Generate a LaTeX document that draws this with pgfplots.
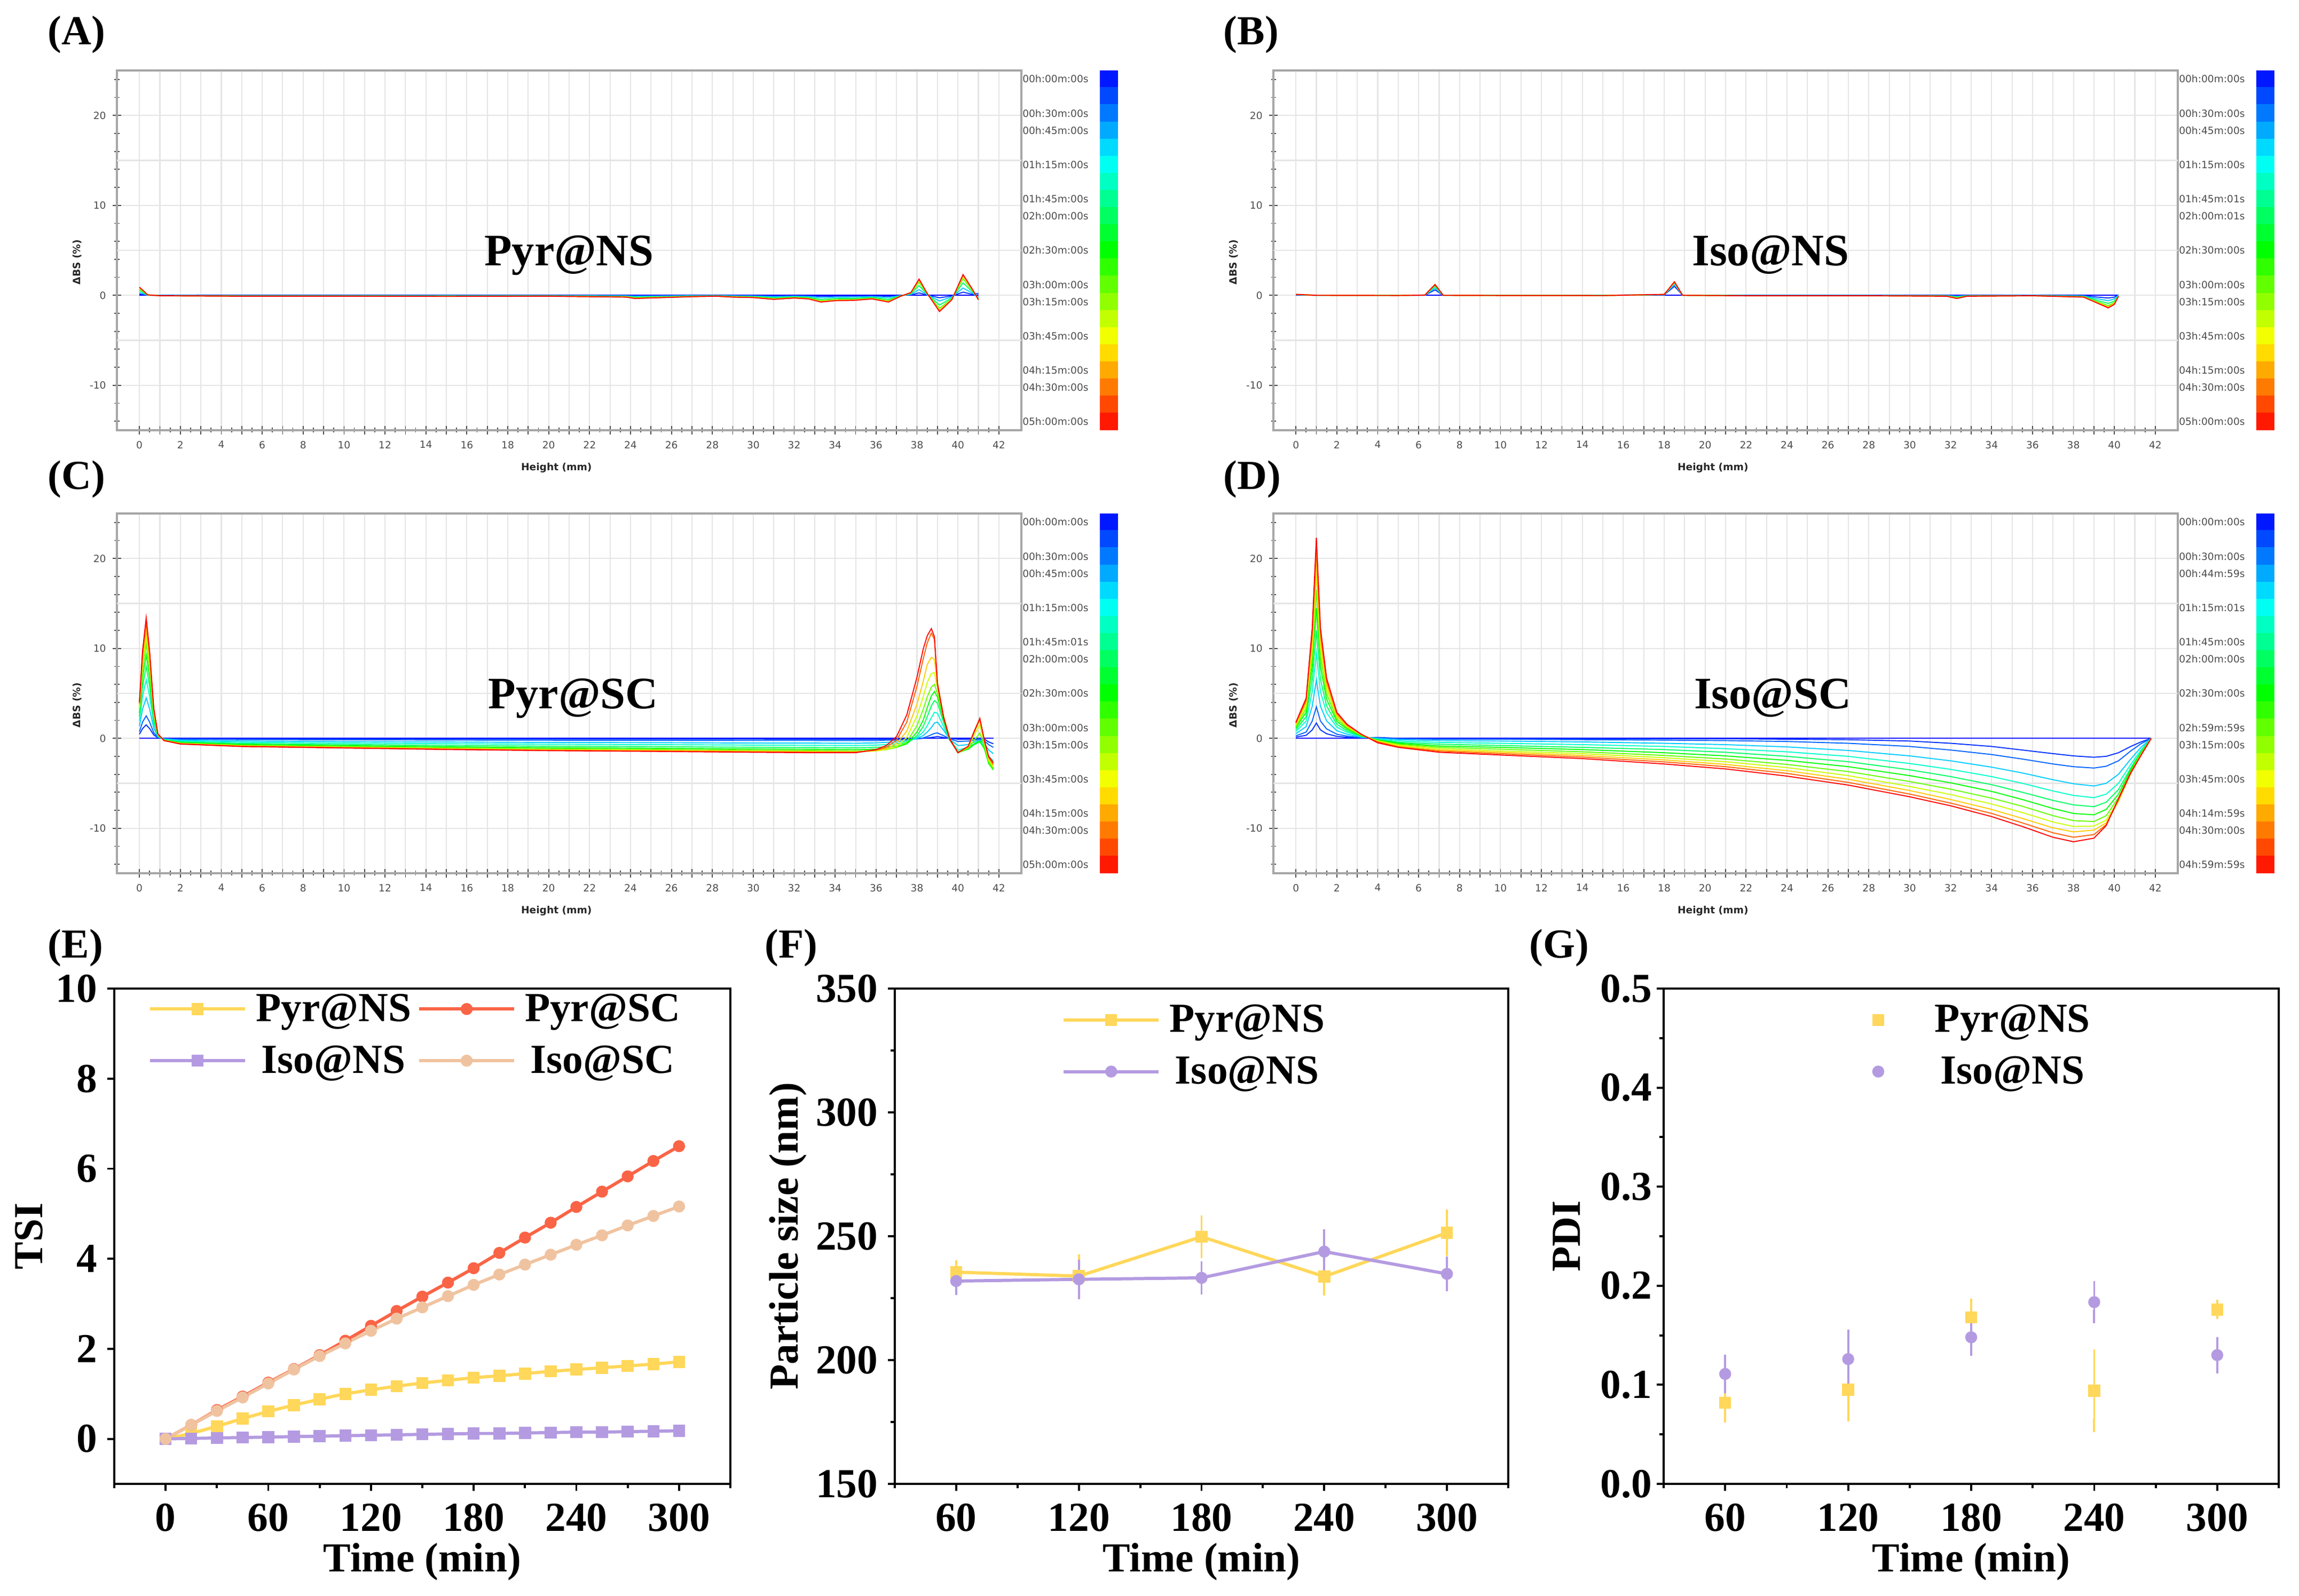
\documentclass[border=0pt]{standalone}
\usepackage{fontspec}
\setmainfont{Liberation Serif}
\newfontfamily\dvs{DejaVu Sans}
\usepackage{pgfplots}
\usepackage{pgfplotstable}
\pgfplotsset{compat=1.18}

\definecolor{cPN}{RGB}{255,215,90}
\definecolor{cPS}{RGB}{250,100,70}
\definecolor{cIN}{RGB}{180,155,225}
\definecolor{cIS}{RGB}{240,195,160}
\definecolor{h0}{hsb}{0.6667,1,1}
\definecolor{h15}{hsb}{0.6333,1,1}
\definecolor{h30}{hsb}{0.6,1,1}
\definecolor{h60}{hsb}{0.5333,1,1}
\definecolor{h90}{hsb}{0.4667,1,1}
\definecolor{h120}{hsb}{0.4,1,1}
\definecolor{h150}{hsb}{0.3333,1,1}
\definecolor{h180}{hsb}{0.2667,1,1}
\definecolor{h210}{hsb}{0.2,1,1}
\definecolor{h240}{hsb}{0.1333,1,1}
\definecolor{h270}{hsb}{0.0667,1,1}
\definecolor{h300}{hsb}{0,1,1}

% Panel A: Pyr@NS  (columns: t=15,60,120,180,240,300 min)
\pgfplotstableread{
x a b c d e f
0 0.14 0.32 0.54 0.72 0.83 0.9
0.15 0.09 0.21 0.36 0.48 0.55 0.6
0.4 0.01 0.02 0.03 0.04 0.05 0.05
1 -0.01 -0.02 -0.03 -0.04 -0.05 -0.05
5 -0.02 -0.04 -0.06 -0.08 -0.09 -0.1
10 -0.02 -0.04 -0.06 -0.08 -0.09 -0.1
15 -0.02 -0.04 -0.07 -0.1 -0.11 -0.12
20 -0.02 -0.04 -0.06 -0.08 -0.09 -0.1
23.8 -0.03 -0.07 -0.12 -0.16 -0.18 -0.2
24.2 -0.05 -0.12 -0.21 -0.28 -0.32 -0.35
27 -0.02 -0.05 -0.09 -0.12 -0.14 -0.15
28.2 -0.02 -0.04 -0.06 -0.08 -0.09 -0.1
29 -0.03 -0.07 -0.12 -0.16 -0.18 -0.2
30 -0.04 -0.09 -0.15 -0.2 -0.23 -0.25
31 -0.07 -0.16 -0.27 -0.36 -0.41 -0.45
32 -0.05 -0.11 -0.18 -0.24 -0.28 -0.3
32.7 -0.06 -0.14 -0.24 -0.32 -0.37 -0.4
33.3 -0.11 -0.26 -0.45 -0.6 -0.69 -0.75
34 -0.09 -0.21 -0.36 -0.48 -0.55 -0.6
35 -0.08 -0.19 -0.33 -0.44 -0.51 -0.55
35.8 -0.06 -0.14 -0.24 -0.32 -0.37 -0.4
36.6 -0.11 -0.26 -0.45 -0.6 -0.69 -0.75
37.2 -0.02 -0.04 -0.06 -0.08 -0.09 -0.1
37.7 0.05 0.11 0.18 0.24 0.28 0.3
38.1 0.27 0.63 1.08 1.44 1.66 1.8
38.5 0.03 0.07 0.12 0.16 0.18 0.2
39.1 -0.27 -0.63 -1.08 -1.44 -1.66 -1.8
39.7 -0.08 -0.18 -0.3 -0.4 -0.46 -0.5
40.25 0.35 0.81 1.38 1.84 2.12 2.3
40.7 0.11 0.25 0.42 0.56 0.64 0.7
41.0 0.2 -0.18 -0.3 -0.4 -0.46 -0.5
}\tabA

% Panel B: Iso@NS (columns: t=15,60,120,180,240,300 min)
\pgfplotstableread{
x a b c d e f
0 0.05 0.05 0.08 0.1 0.1 0.1
1 0 0 0 0 0 0
5 0 0 0 0 -0.02 -0.02
6.3 0 0 0.02 0.02 0.02 0.02
6.8 0.6 0.8 1.0 1.1 1.2 1.2
7.2 0 0 0 0 0 0
10 0 0 0 -0.02 -0.02 -0.02
15 0 0 -0.02 -0.02 -0.03 -0.03
18.0 0.05 0.05 0.08 0.08 0.1 0.1
18.5 1.0 1.2 1.4 1.5 1.4 1.5
18.9 0 0 0 0 0 0
22 0 -0.02 -0.03 -0.04 -0.05 -0.05
28 0 -0.02 -0.03 -0.04 -0.05 -0.05
31.8 -0.02 -0.04 -0.06 -0.08 -0.09 -0.1
32.3 -0.05 -0.12 -0.2 -0.27 -0.32 -0.35
32.8 -0.02 -0.04 -0.06 -0.08 -0.09 -0.1
36 0 -0.02 -0.03 -0.04 -0.05 -0.05
38.5 -0.05 -0.08 -0.12 -0.16 -0.18 -0.2
39.2 -0.2 -0.4 -0.6 -0.75 -0.85 -0.9
39.7 -0.3 -0.6 -0.9 -1.15 -1.3 -1.4
40.0 -0.2 -0.4 -0.65 -0.8 -0.9 -1.0
40.2 0.05 0 -0.05 -0.08 -0.1 -0.1
}\tabB

% Panel C: Pyr@SC (columns: t=15,30,60,90,120,150,180,210,240,270,300 min)
\pgfplotstableread{
x a b c d e f g h i j k
0 0.45 0.75 1.35 1.95 2.40 2.79 3.15 3.42 3.66 3.87 4.02
0.15 1.08 1.80 3.24 4.68 5.76 6.70 7.56 8.21 8.78 9.29 9.65
0.33 1.50 2.50 4.50 6.50 8.00 9.30 10.5 11.4 12.2 12.9 13.4
0.5 1.08 1.80 3.24 4.68 5.76 6.70 7.56 8.21 8.78 9.29 9.65
0.7 0.38 0.63 1.13 1.63 2.00 2.33 2.63 2.85 3.05 3.23 3.35
0.9 0.07 0.10 0.17 0.25 0.30 0.34 0.39 0.42 0.45 0.49 0.50
1.2 -0.02 -0.04 -0.08 -0.12 -0.16 -0.19 -0.21 -0.23 -0.23 -0.24 -0.25
2 -0.04 -0.10 -0.21 -0.30 -0.40 -0.48 -0.53 -0.57 -0.59 -0.61 -0.63
5 -0.06 -0.14 -0.30 -0.44 -0.58 -0.69 -0.77 -0.83 -0.85 -0.88 -0.91
10 -0.07 -0.16 -0.36 -0.52 -0.68 -0.81 -0.91 -0.98 -1.01 -1.04 -1.07
15 -0.08 -0.19 -0.41 -0.60 -0.79 -0.94 -1.05 -1.13 -1.16 -1.20 -1.24
20 -0.08 -0.21 -0.46 -0.66 -0.87 -1.04 -1.16 -1.25 -1.29 -1.33 -1.37
25 -0.09 -0.22 -0.48 -0.70 -0.92 -1.10 -1.23 -1.32 -1.36 -1.41 -1.45
30 -0.09 -0.24 -0.52 -0.75 -0.99 -1.18 -1.32 -1.41 -1.46 -1.50 -1.55
33 -0.10 -0.24 -0.53 -0.78 -1.02 -1.21 -1.36 -1.46 -1.50 -1.55 -1.60
35 -0.10 -0.25 -0.55 -0.80 -1.05 -1.25 -1.40 -1.50 -1.50 -1.55 -1.60
36 -0.10 -0.25 -0.50 -0.75 -1.00 -1.20 -1.35 -1.40 -1.35 -1.30 -1.25
36.5 -0.10 -0.20 -0.45 -0.70 -0.95 -1.15 -1.25 -1.25 -1.15 -1.00 -0.80
37 -0.10 -0.20 -0.40 -0.60 -0.85 -1.00 -1.00 -0.90 -0.60 -0.20 0.20
37.5 -0.10 -0.15 -0.30 -0.45 -0.60 -0.60 -0.40 0.10 0.80 1.80 2.60
38 -0.05 -0.05 0.00 0.10 0.30 0.70 1.40 2.50 3.80 5.80 6.80
38.3 0.00 0.05 0.30 0.70 1.30 2.00 3.20 4.60 6.30 8.80 9.90
38.5 0.05 0.20 0.70 1.40 2.40 3.40 4.60 6.20 8.20 10.6 11.4
38.7 0.10 0.40 1.20 2.30 3.60 4.70 5.70 7.20 9.00 11.7 12.2
38.85 0.15 0.55 1.70 2.90 4.20 5.20 6.00 7.30 8.80 11.0 11.3
39.0 0.20 0.60 1.80 2.80 3.90 4.60 5.00 5.60 6.00 6.20 6.00
39.3 0.10 0.30 0.90 1.30 1.80 2.10 2.30 2.40 2.40 2.40 2.30
39.6 0.00 -0.05 -0.10 -0.20 -0.20 -0.10 0.00 0.00 0.00 0.00 -0.10
40.0 -0.10 -0.35 -0.80 -1.30 -1.50 -1.60 -1.60 -1.60 -1.60 -1.60 -1.60
40.5 -0.10 -0.30 -0.70 -1.00 -1.20 -1.20 -1.10 -1.00 -0.90 -0.90 -0.90
40.8 -0.05 -0.20 -0.40 -0.60 -0.70 -0.60 -0.20 0.40 0.70 0.80 0.80
41.07 0.00 -0.10 -0.20 -0.30 -0.40 -0.30 0.60 1.50 2.00 2.20 2.20
41.3 -0.10 -0.30 -0.60 -0.90 -1.10 -1.20 -0.90 -0.60 -0.40 -0.30 -0.30
41.5 -0.40 -0.70 -1.30 -2.00 -2.50 -2.80 -2.60 -2.40 -2.20 -2.10 -2.00
41.73 -0.60 -1.00 -1.70 -2.50 -3.30 -3.50 -3.40 -3.20 -3.00 -2.90 -2.70
}\tabC

% Panel D: Iso@SC (columns: t=15,30,60,90,120,150,180,210,240,270,300 min)
\pgfplotstableread{
x a b c d e f g h i j k
0 0.14 0.28 0.52 0.76 0.96 1.16 1.32 1.46 1.58 1.70 1.78
0.5 0.34 0.70 1.30 1.90 2.40 2.90 3.30 3.66 3.96 4.24 4.46
0.8 0.94 1.93 3.58 5.20 6.60 8.00 9.10 10.1 10.9 11.7 12.3
1.0 1.70 3.50 6.50 9.50 12.0 14.5 16.5 18.3 19.8 21.2 22.3
1.2 0.94 1.93 3.58 5.20 6.60 8.00 9.10 10.1 10.9 11.7 12.3
1.5 0.51 1.05 1.95 2.85 3.60 4.35 4.95 5.50 5.94 6.36 6.69
2.0 0.22 0.46 0.85 1.24 1.56 1.89 2.15 2.38 2.57 2.76 2.90
2.5 0.12 0.25 0.46 0.67 0.84 1.02 1.16 1.28 1.39 1.48 1.56
3.2 0.05 0.07 0.13 0.19 0.24 0.29 0.33 0.37 0.40 0.42 0.45
4 0.10 0.05 0.00 -0.10 -0.15 -0.20 -0.25 -0.30 -0.35 -0.40 -0.50
5 0.00 -0.05 -0.15 -0.30 -0.45 -0.55 -0.65 -0.75 -0.85 -0.95 -1.00
7 -0.05 -0.10 -0.25 -0.45 -0.65 -0.85 -1.00 -1.15 -1.30 -1.42 -1.55
10 -0.05 -0.10 -0.30 -0.55 -0.80 -1.00 -1.20 -1.40 -1.55 -1.70 -1.85
14 -0.05 -0.15 -0.40 -0.70 -1.00 -1.25 -1.50 -1.70 -1.90 -2.08 -2.25
18 -0.05 -0.20 -0.55 -0.90 -1.25 -1.60 -1.90 -2.15 -2.40 -2.62 -2.85
21 -0.05 -0.25 -0.70 -1.15 -1.55 -1.95 -2.30 -2.60 -2.90 -3.15 -3.40
24 -0.10 -0.35 -0.95 -1.50 -2.00 -2.45 -2.90 -3.25 -3.60 -3.90 -4.20
27 -0.15 -0.55 -1.35 -2.00 -2.60 -3.15 -3.70 -4.15 -4.55 -4.90 -5.20
30 -0.30 -0.90 -1.95 -2.80 -3.50 -4.15 -4.80 -5.35 -5.80 -6.20 -6.50
32 -0.55 -1.30 -2.50 -3.45 -4.25 -4.95 -5.65 -6.25 -6.80 -7.20 -7.50
34 -0.90 -1.80 -3.20 -4.25 -5.15 -5.90 -6.65 -7.30 -7.90 -8.35 -8.70
35.5 -1.30 -2.30 -3.85 -5.00 -6.00 -6.80 -7.55 -8.25 -8.90 -9.40 -9.80
37 -1.70 -2.85 -4.60 -5.85 -6.90 -7.80 -8.60 -9.30 -9.95 -10.5 -11.0
38 -1.95 -3.15 -5.05 -6.35 -7.40 -8.35 -9.15 -9.80 -10.4 -11.0 -11.5
39 -2.10 -3.30 -5.30 -6.60 -7.60 -8.50 -9.25 -9.75 -10.2 -10.7 -11.1
39.6 -2.00 -3.10 -5.00 -6.20 -7.10 -7.90 -8.60 -9.10 -9.40 -9.60 -9.70
40.2 -1.60 -2.50 -4.00 -5.00 -5.70 -6.20 -6.60 -6.90 -7.00 -6.80 -6.70
40.8 -0.90 -1.40 -2.30 -2.90 -3.30 -3.50 -3.70 -3.80 -3.90 -3.90 -3.80
41.3 -0.40 -0.60 -1.00 -1.30 -1.50 -1.60 -1.70 -1.80 -1.85 -1.85 -1.90
41.8 0.00 0.00 0.00 0.00 0.00 0.00 0.00 0.00 0.00 0.00 0.00
}\tabD

% Panel E: TSI
\pgfplotstableread{
t PN PS IN IS
0 0 0 0 0
15 0.12 0.31 0.01 0.31
30 0.28 0.64 0.02 0.62
45 0.45 0.94 0.03 0.92
60 0.61 1.25 0.04 1.23
75 0.75 1.55 0.05 1.54
90 0.88 1.86 0.06 1.84
105 1.00 2.18 0.07 2.12
120 1.09 2.51 0.08 2.40
135 1.17 2.84 0.09 2.67
150 1.24 3.16 0.10 2.92
165 1.30 3.47 0.11 3.17
180 1.36 3.79 0.12 3.42
195 1.40 4.13 0.12 3.65
210 1.45 4.47 0.13 3.87
225 1.50 4.80 0.14 4.09
240 1.54 5.15 0.15 4.31
255 1.58 5.49 0.15 4.52
270 1.62 5.83 0.16 4.74
285 1.66 6.17 0.17 4.95
300 1.71 6.50 0.18 5.16
}\tabE

% Panel F: particle size
\pgfplotstableread{
t P Pe I Ie
60 235.5 2.0 231.9 3.0
120 233.9 6.0 232.6 5.3
180 249.8 6.0 233.2 4.0
240 233.7 5.0 243.8 6.4
300 251.4 6.7 234.8 4.4
}\tabF

% Panel G: PDI
\pgfplotstableread{
t P Pe I Ie
60 0.082 0.0135 0.111 0.0126
120 0.095 0.025 0.126 0.023
180 0.168 0.012 0.148 0.012
240 0.094 0.035 0.1835 0.0146
300 0.176 0.003 0.130 0.0115
}\tabG

\newcommand{\bigf}{\bfseries\fontsize{22}{24}\selectfont}
\newcommand{\ttl}{\bfseries\fontsize{24}{26}\selectfont}
\newcommand{\tsf}{\dvs\fontsize{5.3}{6}\selectfont}
\newcommand{\tp}[3]{\addplot[#2, line width=0.55pt] table[x=x,y=#3]{#1};}

\pgfplotsset{
  turbi/.style={
    scale only axis, width=169.4mm, height=67.4mm,
    xmin=-1.1, xmax=43.1, ymin=-15, ymax=25,
    axis line style={draw=gray!70, line width=0.9pt},
    xtick={0,1,...,42},
    xticklabels={0,,2,,4,,6,,8,,10,,12,,14,,16,,18,,20,,22,,24,,26,,28,,30,,32,,34,,36,,38,,40,,42},
    minor x tick num=1,
    ytick={-10,0,10,20},
    minor ytick={-14,-12,...,24},
    extra y ticks={-5,5,15}, extra y tick labels={},
    extra y tick style={grid=major, major tick length=0pt},
    grid=major,
    major grid style={gray!20, line width=0.6pt},
    tick pos=left, tick align=center,
    major tick length=1.6mm, minor tick length=0.9mm,
    tick style={gray!60!black, line width=0.5pt},
    ticklabel style={font=\tsf, text=gray!60!black},
    /pgf/number format/assume math mode=true,
    xlabel={Height (mm)}, ylabel={ΔBS (\%)},
    xlabel style={font=\tsf\bfseries, text=black!85, at={(axis description cs:0.486,-0.105)}, anchor=center},
    ylabel style={font=\tsf\bfseries, text=black!85, at={(axis description cs:-0.044,0.467)}, anchor=center},
    colormap={turbi}{rgb255=(0,0,255) rgb255=(0,255,255) rgb255=(0,255,0) rgb255=(255,255,0) rgb255=(255,0,0)},
    point meta min=-7.5, point meta max=307.5,
    colorbar sampled,
    colorbar style={samples=22, at={(parent axis.north east)}, anchor=north west, xshift=11.7mm,
      scale only axis, width=3.4mm, height=67.4mm, y dir=reverse,
      ytick={0,30,45,75,105,120,150,180,195,225,255,270,300},
      yticklabel pos=left, major tick length=0pt, axis line style={draw=none},
      yticklabel style={font=\tsf, text=gray!60!black, xshift=-0.9mm}},
  },
  cbar/.style={colorbar style={yticklabels={#1}}},
  orig/.style={
    scale only axis, height=92.8mm,
    tick pos=left, tick align=outside,
    major tick length=1.3mm, minor tick length=0.8mm,
    tick style={black, line width=1.1pt},
    axis line style={line width=1.3pt},
    ticklabel style={font=\bigf, inner sep=0pt},
    xticklabel style={anchor=north, yshift=-2.3mm},
    /pgf/number format/assume math mode=true,
    label style={font=\bigf, inner sep=0pt},
    xlabel={Time (min)},
    xlabel style={at={(axis description cs:0.5,-0.157)}, anchor=center},
    legend style={draw=none, fill=none, font=\bigf, inner sep=0pt, row sep=4.0mm,
      nodes={inner xsep=1.2mm, inner ysep=0pt},
      /tikz/every odd column/.append style={column sep=0.5mm}},
    legend cell align=center,
    legend image code/.code={\draw[mark repeat=2, mark phase=2, ##1] plot coordinates {(0mm,0mm) (8.9mm,0mm) (17.8mm,0mm)};},
  },
  mk/.style={mark size=2.95pt, mark options={fill=#1, draw=#1, line width=0.5pt, solid}},
}

\begin{document}
\begin{tikzpicture}
\useasboundingbox (0,0) rectangle (430.6mm,299mm);

% ---------- (A) ----------
\begin{axis}[turbi, at={(21.9mm,218.4mm)}, anchor=south west,
  cbar={00h:00m:00s,00h:30m:00s,00h:45m:00s,01h:15m:00s,01h:45m:00s,02h:00m:00s,02h:30m:00s,03h:00m:00s,03h:15m:00s,03h:45m:00s,04h:15m:00s,04h:30m:00s,05h:00m:00s}]
\addplot[h0, line width=0.55pt] coordinates {(0,0) (41,0)};
\tp{\tabA}{h15}{a}
\tp{\tabA}{h60}{b}
\tp{\tabA}{h120}{c}
\tp{\tabA}{h180}{d}
\tp{\tabA}{h240}{e}
\tp{\tabA}{h300}{f}
\node[font=\ttl, anchor=base] at (axis cs:21.0,3.3) {Pyr@NS};
\end{axis}

% ---------- (B) ----------
\begin{axis}[turbi, at={(238.5mm,218.4mm)}, anchor=south west,
  cbar={00h:00m:00s,00h:30m:00s,00h:45m:00s,01h:15m:00s,01h:45m:01s,02h:00m:01s,02h:30m:00s,03h:00m:00s,03h:15m:00s,03h:45m:00s,04h:15m:00s,04h:30m:00s,05h:00m:00s}]
\addplot[h0, line width=0.55pt] coordinates {(0,0) (40.2,0)};
\tp{\tabB}{h15}{a}
\tp{\tabB}{h60}{b}
\tp{\tabB}{h120}{c}
\tp{\tabB}{h180}{d}
\tp{\tabB}{h240}{e}
\tp{\tabB}{h300}{f}
\node[font=\ttl, anchor=base] at (axis cs:23.2,3.3) {Iso@NS};
\end{axis}

% ---------- (C) ----------
\begin{axis}[turbi, at={(21.9mm,135.4mm)}, anchor=south west,
  cbar={00h:00m:00s,00h:30m:00s,00h:45m:00s,01h:15m:00s,01h:45m:01s,02h:00m:00s,02h:30m:00s,03h:00m:00s,03h:15m:00s,03h:45m:00s,04h:15m:00s,04h:30m:00s,05h:00m:00s}]
\addplot[h0, line width=0.55pt] coordinates {(0,0) (41.73,0)};
\tp{\tabC}{h15}{a}
\tp{\tabC}{h30}{b}
\tp{\tabC}{h60}{c}
\tp{\tabC}{h90}{d}
\tp{\tabC}{h120}{e}
\tp{\tabC}{h150}{f}
\tp{\tabC}{h180}{g}
\tp{\tabC}{h210}{h}
\tp{\tabC}{h240}{i}
\tp{\tabC}{h270}{j}
\tp{\tabC}{h300}{k}
\node[font=\ttl, anchor=base] at (axis cs:21.2,3.3) {Pyr@SC};
\end{axis}

% ---------- (D) ----------
\begin{axis}[turbi, at={(238.5mm,135.4mm)}, anchor=south west,
  cbar={00h:00m:00s,00h:30m:00s,00h:44m:59s,01h:15m:01s,01h:45m:00s,02h:00m:00s,02h:30m:00s,02h:59m:59s,03h:15m:00s,03h:45m:00s,04h:14m:59s,04h:30m:00s,04h:59m:59s}]
\addplot[h0, line width=0.55pt] coordinates {(0,0) (41.8,0)};
\tp{\tabD}{h15}{a}
\tp{\tabD}{h30}{b}
\tp{\tabD}{h60}{c}
\tp{\tabD}{h90}{d}
\tp{\tabD}{h120}{e}
\tp{\tabD}{h150}{f}
\tp{\tabD}{h180}{g}
\tp{\tabD}{h210}{h}
\tp{\tabD}{h240}{i}
\tp{\tabD}{h270}{j}
\tp{\tabD}{h300}{k}
\node[font=\ttl, anchor=base] at (axis cs:23.3,3.3) {Iso@SC};
\end{axis}

% ---------- (E) ----------
\begin{axis}[orig, at={(21.4mm,21.0mm)}, anchor=south west, width=115.4mm,
  xmin=-30, xmax=330, ymin=-1, ymax=10,
  xtick={0,60,...,300}, minor xtick={-30,30,90,150,210,270,330},
  ytick={0,2,...,10},
  yticklabel style={anchor=east, xshift=-1.8mm},
  ylabel={TSI}, ylabel style={at={(axis description cs:-0.1386,0.5)}, anchor=center},
  legend columns=2,
  legend style={at={(axis description cs:0.055,0.99)}, anchor=north west}]
\addplot[cPN, line width=1.7pt, mark=square*, mk=cPN] table[x=t,y=PN]{\tabE};
\addlegendentry{Pyr@NS}
\addplot[cPS, line width=1.7pt, mark=*, mk=cPS] table[x=t,y=PS]{\tabE};
\addlegendentry{Pyr@SC}
\addplot[cIN, line width=1.7pt, mark=square*, mk=cIN] table[x=t,y=IN]{\tabE};
\addlegendentry{Iso@NS}
\addplot[cIS, line width=1.7pt, mark=*, mk=cIS] table[x=t,y=IS]{\tabE};
\addlegendentry{Iso@SC}
\end{axis}

% ---------- (F) ----------
\begin{axis}[orig, at={(167.6mm,21.0mm)}, anchor=south west, width=114.9mm,
  xmin=30, xmax=330, ymin=150, ymax=350,
  xtick={60,120,...,300}, minor xtick={30,90,...,330},
  ytick={150,200,...,350}, minor ytick={175,225,275,325},
  yticklabel style={anchor=east, xshift=-1.8mm},
  ylabel={Particle size (nm)}, ylabel style={at={(axis description cs:-0.174,0.5)}, anchor=center},
  legend style={at={(axis description cs:0.272,0.968)}, anchor=north west}]
\addplot[cPN, line width=1.7pt, mark=square*, mk=cPN,
  error bars/.cd, y dir=both, y explicit, error bar style={line width=1.1pt, cPN, solid},
  error mark options={line width=1.1pt, cPN, mark size=1.25mm}] table[x=t,y=P,y error=Pe]{\tabF};
\addlegendentry{Pyr@NS}
\addplot[cIN, line width=1.7pt, mark=*, mk=cIN,
  error bars/.cd, y dir=both, y explicit, error bar style={line width=1.1pt, cIN, solid},
  error mark options={line width=1.1pt, cIN, mark size=1.25mm}] table[x=t,y=I,y error=Ie]{\tabF};
\addlegendentry{Iso@NS}
\end{axis}

% ---------- (G) ----------
\begin{axis}[orig, at={(311.6mm,21.0mm)}, anchor=south west, width=115.2mm,
  xmin=30, xmax=330, ymin=0, ymax=0.5,
  xtick={60,120,...,300}, minor xtick={30,90,...,330},
  ytick={0,0.1,...,0.5}, minor ytick={0.05,0.15,...,0.45},
  yticklabel style={anchor=east, xshift=-0.8mm, /pgf/number format/.cd, fixed, fixed zerofill, precision=1},
  ylabel={PDI}, ylabel style={at={(axis description cs:-0.158,0.5)}, anchor=center},
  legend image code/.code={\path (0mm,0mm) -- (17.8mm,0mm); \path[#1] plot coordinates {(8.9mm,0mm)};},
  legend style={at={(axis description cs:0.271,0.968)}, anchor=north west}]
\addplot[cPN, draw=none, mark=square*, mk=cPN,
  error bars/.cd, y dir=both, y explicit, error bar style={line width=1.1pt, draw=cPN},
  error mark options={line width=1.1pt, draw=cPN, mark size=1.25mm}] table[x=t,y=P,y error=Pe]{\tabG};
\addlegendentry{Pyr@NS}
\addplot[cIN, draw=none, mark=*, mk=cIN,
  error bars/.cd, y dir=both, y explicit, error bar style={line width=1.1pt, draw=cIN},
  error mark options={line width=1.1pt, draw=cIN, mark size=1.25mm}] table[x=t,y=I,y error=Ie]{\tabG};
\addlegendentry{Iso@NS}
\end{axis}

% panel letters
\node[anchor=north west, inner sep=0pt, font=\bigf] at (8.9mm,296.1mm) {(A)};
\node[anchor=north west, inner sep=0pt, font=\bigf] at (229.1mm,296.1mm) {(B)};
\node[anchor=north west, inner sep=0pt, font=\bigf] at (8.9mm,212.8mm) {(C)};
\node[anchor=north west, inner sep=0pt, font=\bigf] at (229.1mm,212.8mm) {(D)};
\node[anchor=north west, inner sep=0pt, font=\bigf] at (8.9mm,125.0mm) {(E)};
\node[anchor=north west, inner sep=0pt, font=\bigf] at (143.2mm,125.0mm) {(F)};
\node[anchor=north west, inner sep=0pt, font=\bigf] at (286.4mm,125.0mm) {(G)};
\end{tikzpicture}
\end{document}
